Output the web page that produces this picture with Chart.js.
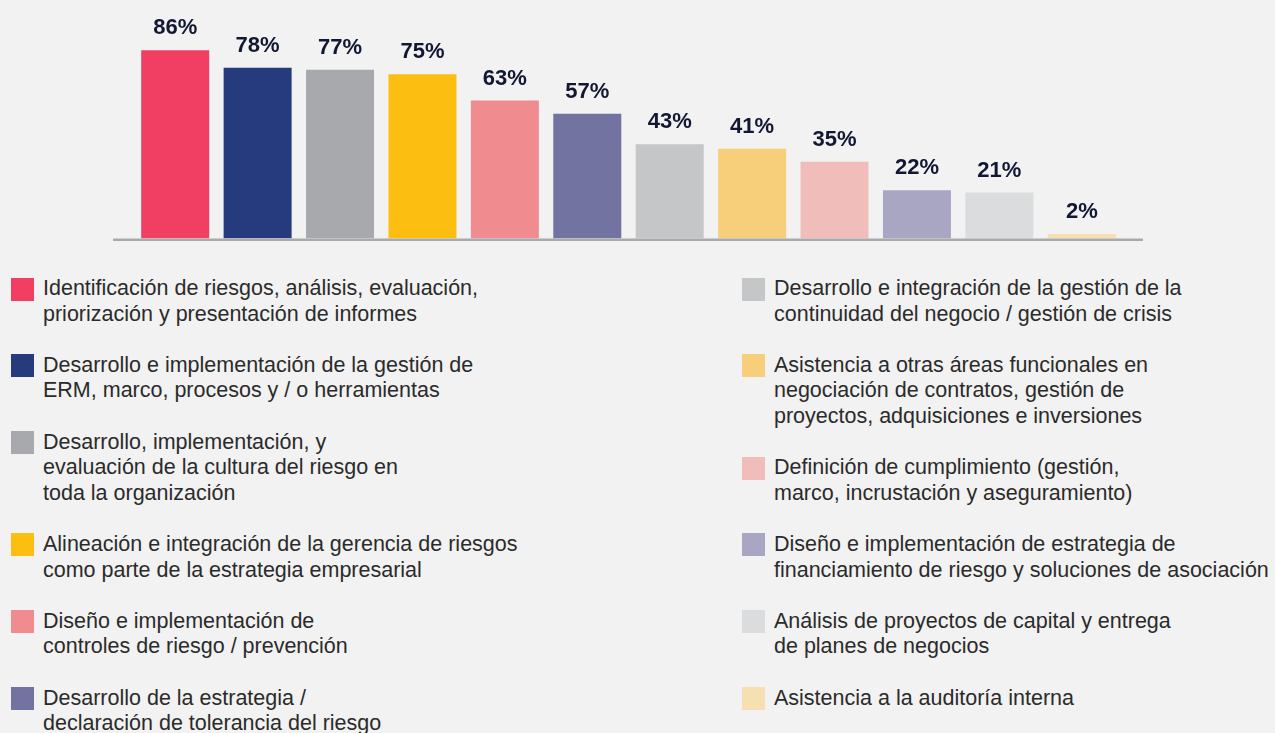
<!DOCTYPE html>
<html>
<head>
<meta charset="utf-8">
<script src="https://cdn.jsdelivr.net/npm/chart.js@4/dist/chart.umd.min.js"></script>
<style>
  html, body { margin: 0; padding: 0; background: #f1f2f1; width: 1275px; height: 733px; overflow: hidden; }
  #wrap { position: relative; width: 1275px; height: 733px; }
  #chart { position: absolute; left: 0; top: 0; }
  .col { position: absolute; top: 276px; font-size: 21.5px; color: #2b2b2b; }
  .item { display: flex; align-items: flex-start; line-height: 25.6px; margin-bottom: 25.6px; }
  .sw { width: 23px; height: 23px; flex: 0 0 23px; margin-top: 1.5px; margin-right: 9px; }
  .txt { white-space: nowrap; }
</style>
</head>
<body>
<div id="wrap">
  <canvas id="chart" width="1275" height="260"></canvas>
  <div class="col" id="colL" style="left:11px"></div>
  <div class="col" id="colR" style="left:742px"></div>
</div>
<script>
const categories = [
  ["Identificación de riesgos, análisis, evaluación,", "priorización y presentación de informes"],
  ["Desarrollo e implementación de la gestión de", "ERM, marco, procesos y / o herramientas"],
  ["Desarrollo, implementación, y", "evaluación de la cultura del riesgo en", "toda la organización"],
  ["Alineación e integración de la gerencia de riesgos", "como parte de la estrategia empresarial"],
  ["Diseño e implementación de", "controles de riesgo / prevención"],
  ["Desarrollo de la estrategia /", "declaración de tolerancia del riesgo"],
  ["Desarrollo e integración de la gestión de la", "continuidad del negocio / gestión de crisis"],
  ["Asistencia a otras áreas funcionales en", "negociación de contratos, gestión de", "proyectos, adquisiciones e inversiones"],
  ["Definición de cumplimiento (gestión,", "marco, incrustación y aseguramiento)"],
  ["Diseño e implementación de estrategia de", "financiamiento de riesgo y soluciones de asociación"],
  ["Análisis de proyectos de capital y entrega", "de planes de negocios"],
  ["Asistencia a la auditoría interna"]
];
const values = [86, 78, 77, 75, 63, 57, 43, 41, 35, 22, 21, 2];
const valueLabels = ["86%", "78%", "77%", "75%", "63%", "57%", "43%", "41%", "35%", "22%", "21%", "2%"];
const colors = ["#f03f63", "#263b7d", "#a8a9ac", "#fdbe12", "#f08b8f", "#7273a0",
                "#c5c6c8", "#f7cf7a", "#f0bdbb", "#a9a6c3", "#dbdcde", "#f6dfb0"];

// pick an Arial-metric font that is actually installed
function pickFont() {
  const c = document.createElement('canvas').getContext('2d');
  const s = 'Identificación de riesgos, análisis, evaluación, WMmli1';
  const widthOf = f => { c.font = '18px ' + f; return c.measureText(s).width; };
  const mono = widthOf('monospace');
  const cands = ['"Liberation Sans"', 'Arimo', 'Arial', 'Helvetica', 'Roboto'];
  for (const f of cands) {
    const a = widthOf(f + ', monospace'), b = widthOf(f + ', serif');
    if (Math.abs(a - b) < 0.01 && Math.abs(a - mono) > 0.5) return f;
  }
  return 'Roboto';
}
const FONT = pickFont() + ', sans-serif';
document.querySelectorAll('.col').forEach(el => el.style.fontFamily = FONT);

const overlay = {
  id: 'overlay',
  afterDatasetsDraw(chart) {
    const ctx = chart.ctx;
    const area = chart.chartArea;
    const y0 = chart.scales.y.getPixelForValue(0);
    ctx.save();
    ctx.strokeStyle = '#a9aaac';
    ctx.lineWidth = 2.5;
    ctx.beginPath();
    ctx.moveTo(area.left - 21, y0 + 1.2);
    ctx.lineTo(area.right + 20, y0 + 1.2);
    ctx.stroke();
    const meta = chart.getDatasetMeta(0);
    ctx.fillStyle = '#121733';
    ctx.font = 'bold 22px ' + FONT;
    ctx.textAlign = 'center';
    ctx.textBaseline = 'alphabetic';
    meta.data.forEach((bar, i) => {
      ctx.fillText(valueLabels[i], bar.x, bar.y - 16);
    });
    ctx.restore();
  }
};

new Chart(document.getElementById('chart'), {
  type: 'bar',
  data: {
    labels: categories.map(c => c.join(' ')),
    datasets: [{ data: values, backgroundColor: colors, borderWidth: 0 }]
  },
  options: {
    responsive: false,
    animation: false,
    layout: { padding: { left: 134, right: 152, top: 19.5, bottom: 21.5 } },
    plugins: { legend: { display: false }, tooltip: { enabled: false } },
    scales: {
      x: { display: false, offset: true },
      y: { display: false, min: 0, max: 100 }
    },
    datasets: { bar: { categoryPercentage: 1, barPercentage: 0.825 } }
  },
  plugins: [overlay]
});

function addItem(col, i) {
  const item = document.createElement('div');
  item.className = 'item';
  const sw = document.createElement('div');
  sw.className = 'sw';
  sw.style.background = colors[i];
  const txt = document.createElement('div');
  txt.className = 'txt';
  categories[i].forEach((line, k) => {
    if (k > 0) txt.appendChild(document.createElement('br'));
    txt.appendChild(document.createTextNode(line));
  });
  item.appendChild(sw);
  item.appendChild(txt);
  col.appendChild(item);
}
const colL = document.getElementById('colL');
const colR = document.getElementById('colR');
for (let i = 0; i < 6; i++) addItem(colL, i);
for (let i = 6; i < 12; i++) addItem(colR, i);
</script>
</body>
</html>
